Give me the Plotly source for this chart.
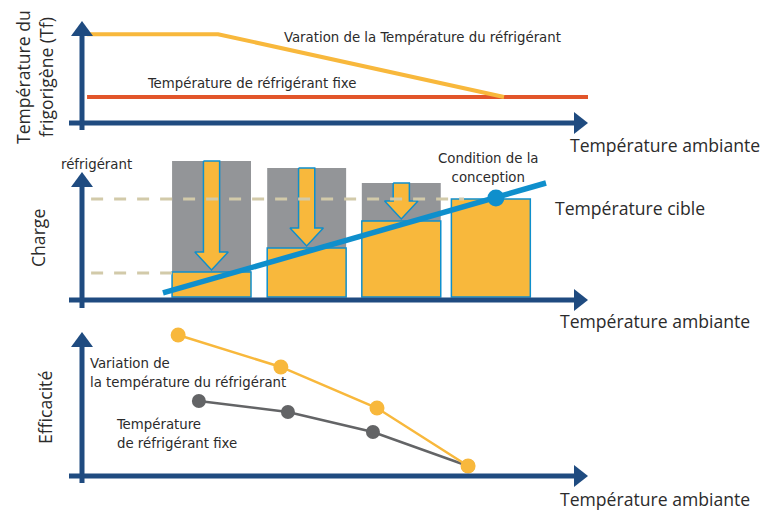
import plotly.graph_objects as go

# ---------------- data (arbitrary units, 0..10) ----------------
# Panel 1: refrigerant temperature vs ambient temperature
var_x = [0.1, 2.69, 8.34]
var_y = [8.7, 8.7, 2.55]
fixe_x = [0.1, 10.0]
fixe_y = [2.55, 2.55]

# Panel 2: refrigerant charge
bar_x = [2.56, 4.44, 6.31, 8.08]
bar_width = 1.56
gray_top = [9.27, 8.8, 7.8, None]
yellow_top = [1.87, 3.47, 5.27, 6.73]
bar_base = 0.2
cible_x = [1.6, 9.17]
cible_y = [0.47, 7.8]
design_x = [8.18]
design_y = [6.8]
dash_high_x = [0.18, 7.55]
dash_high_y = [6.73, 6.73]
dash_low_x = [0.18, 1.78]
dash_low_y = [1.8, 1.8]

# Panel 3: efficiency
eff_var_x = [1.9, 3.93, 5.83, 7.63]
eff_var_y = [9.4, 7.27, 4.53, 0.67]
eff_fixe_x = [2.31, 4.07, 5.75, 7.63]
eff_fixe_y = [5.0, 4.27, 2.93, 0.67]

# ---------------- styles ----------------
W, H = 768, 512
NAVY = "#1f4b80"
YEL = "#f8b83c"
ORANGE = "#e2552a"
BLUE = "#0f8fcc"
GRAY = "#939598"
DGRAY = "#636466"
BEIGE = "#d2caa9"
TXT = "#2b2b2b"
COND = "Liberation Sans Narrow, DejaVu Sans Condensed, Arial Narrow, sans-serif"
REG = "Open Sans, Liberation Sans, Arial, sans-serif"
CS = 14.8
RS = 17.6


def px(x):
    return x / W


def py(y):
    return 1 - y / H


fig = go.Figure()

# Panel 1
fig.add_trace(go.Scatter(x=fixe_x, y=fixe_y, mode="lines",
                         line=dict(color=ORANGE, width=4), xaxis="x", yaxis="y"))
fig.add_trace(go.Scatter(x=var_x, y=var_y, mode="lines",
                         line=dict(color=YEL, width=4), xaxis="x", yaxis="y"))

# Panel 2 bars
gray_h = [None if g is None else g - bar_base for g in gray_top]
yel_h = [t - bar_base for t in yellow_top]
fig.add_trace(go.Bar(x=bar_x, y=gray_h, base=bar_base, width=bar_width,
                     marker=dict(color=GRAY, line=dict(width=0)),
                     xaxis="x2", yaxis="y2"))
fig.add_trace(go.Bar(x=bar_x, y=yel_h, base=bar_base, width=bar_width,
                     marker=dict(color=YEL, line=dict(color=BLUE, width=1.5)),
                     xaxis="x2", yaxis="y2"))

# arrows inside gray parts, derived from bar values
SW, HW, HL, GAP = 0.16, 0.33, 1.2, 0.13
for c, g, t in zip(bar_x, gray_top, yellow_top):
    if g is None:
        continue
    tip = t + GAP
    hb = tip + HL
    xs = [c - SW, c + SW, c + SW, c + HW, c, c - HW, c - SW, c - SW]
    ys = [g, g, hb, hb, tip, hb, hb, g]
    fig.add_trace(go.Scatter(x=xs, y=ys, mode="lines", fill="toself",
                             fillcolor=YEL, line=dict(color=BLUE, width=1.5),
                             xaxis="x2", yaxis="y2"))

# dashed reference lines
for dx, dy in [(dash_high_x, dash_high_y), (dash_low_x, dash_low_y)]:
    fig.add_trace(go.Scatter(x=dx, y=dy, mode="lines",
                             line=dict(color=BEIGE, width=3, dash="12px,11px"),
                             xaxis="x2", yaxis="y2"))

# target temperature line + design point
fig.add_trace(go.Scatter(x=cible_x, y=cible_y, mode="lines",
                         line=dict(color=BLUE, width=5.5), xaxis="x2", yaxis="y2"))
fig.add_trace(go.Scatter(x=design_x, y=design_y, mode="markers",
                         marker=dict(color=BLUE, size=17), xaxis="x2", yaxis="y2"))

# Panel 3
fig.add_trace(go.Scatter(x=eff_fixe_x, y=eff_fixe_y, mode="lines+markers",
                         line=dict(color=DGRAY, width=2.5),
                         marker=dict(color=DGRAY, size=14), xaxis="x3", yaxis="y3"))
fig.add_trace(go.Scatter(x=eff_var_x, y=eff_var_y, mode="lines+markers",
                         line=dict(color=YEL, width=2.5),
                         marker=dict(color=YEL, size=15), xaxis="x3", yaxis="y3"))

# ---------------- axes (hidden; arrows drawn as shapes) ----------------
xdom = [px(82), px(588)]
ax = dict(visible=False, range=[0, 10], fixedrange=True)
fig.update_layout(
    xaxis=dict(ax, domain=xdom, anchor="y"),
    yaxis=dict(ax, domain=[py(123), py(21)], anchor="x"),
    xaxis2=dict(ax, domain=xdom, anchor="y2"),
    yaxis2=dict(ax, domain=[py(300), py(150)], anchor="x2"),
    xaxis3=dict(ax, domain=xdom, anchor="y3"),
    yaxis3=dict(ax, domain=[py(476), py(326)], anchor="x3"),
)

shapes = []


def axis_arrows(x0, ytop, ybot, yaxis_y, xleft, xright):
    shapes.append(dict(type="line", xref="paper", yref="paper",
                       x0=px(x0), x1=px(x0), y0=py(ybot), y1=py(ytop + 13),
                       line=dict(color=NAVY, width=5)))
    shapes.append(dict(type="path", xref="paper", yref="paper",
                       path=f"M {px(x0)} {py(ytop)} L {px(x0 - 11)} {py(ytop + 15)} "
                            f"L {px(x0 + 11)} {py(ytop + 15)} Z",
                       fillcolor=NAVY, line=dict(width=0)))
    shapes.append(dict(type="line", xref="paper", yref="paper",
                       x0=px(xleft), x1=px(xright - 13), y0=py(yaxis_y), y1=py(yaxis_y),
                       line=dict(color=NAVY, width=5)))
    shapes.append(dict(type="path", xref="paper", yref="paper",
                       path=f"M {px(xright)} {py(yaxis_y)} L {px(xright - 14)} {py(yaxis_y - 11)} "
                            f"L {px(xright - 14)} {py(yaxis_y + 11)} Z",
                       fillcolor=NAVY, line=dict(width=0)))


axis_arrows(82, 21, 130, 123, 69, 588)
axis_arrows(82, 172, 308, 300, 69, 588)
axis_arrows(82, 332, 483, 476, 69, 588)

ann = []


def text(t, x, y, size, font=REG, xanchor="left", angle=0, align="left"):
    ann.append(dict(text=t, x=px(x), y=py(y), xref="paper", yref="paper",
                    showarrow=False, xanchor=xanchor, yanchor="middle",
                    textangle=angle, align=align,
                    font=dict(family=font, size=size, color=TXT)))


text("Varation de la Température du réfrigérant", 282, 36, CS, COND)
text("Température de réfrigérant fixe", 145, 82, CS, COND)
text("Température du<br>frigorigène (Tf)", 34, 77, RS, REG, "center", -90, "center")
text("Température ambiante", 568, 145, RS)

text("réfrigérant", 59, 163, CS, COND)
text("Charge", 38, 238, RS, REG, "center", -90, "center")
text("Condition de la<br>conception", 488, 167, CS, COND, "center", 0, "center")
text("Température cible", 553, 208, RS)
text("Température ambiante", 558, 321, RS)

text("Variation de<br>la température du réfrigérant", 88, 372, CS, COND)
text("Température<br>de réfrigérant fixe", 114, 433, CS, COND)
text("Efficacité", 45, 408, RS, REG, "center", -90, "center")
text("Température ambiante", 558, 499, RS)

fig.update_layout(
    width=W, height=H, margin=dict(l=0, r=0, t=0, b=0),
    paper_bgcolor="white", plot_bgcolor="white",
    showlegend=False, barmode="overlay",
    shapes=shapes, annotations=ann,
)

fig.write_html("out.html", config={"displayModeBar": False},
               post_script="document.body.style.margin='0';document.body.style.overflow='hidden';")
